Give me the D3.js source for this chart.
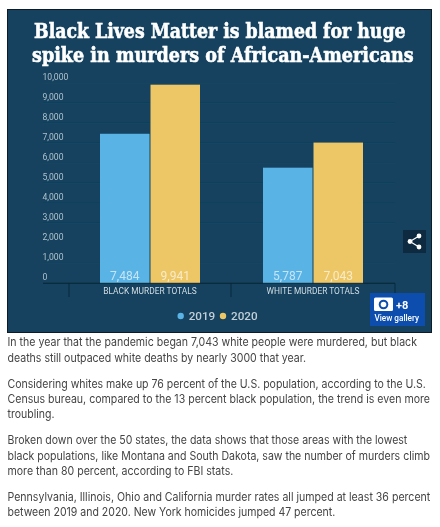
<!DOCTYPE html>
<html><head><meta charset="utf-8">
<script src="https://cdn.jsdelivr.net/npm/d3@7"></script>
<style>html,body{margin:0;padding:0;background:#fff}svg{display:block}</style></head>
<body><svg id="c" width="440" height="527"></svg>
<script>
const categories = ["BLACK MURDER TOTALS", "WHITE MURDER TOTALS"];
const years = ["2019", "2020"];
const values2019 = [7484, 5787];
const values2020 = [9941, 7043];
const yTicks = [0,1000,2000,3000,4000,5000,6000,7000,8000,9000,10000];
const titleLines = [
  {t:"Black Lives Matter is blamed for huge", x:34, w:372, y:38.3},
  {t:"spike in murders of African-Americans", x:32, w:382, y:61.7}];
const bodyLines = [
  ["In the year that the pandemic began 7,043 white people were murdered, but black",346,410],
  ["deaths still outpaced white deaths by nearly 3000 that year.",362,299],
  ["Considering whites make up 76 percent of the U.S. population, according to the U.S.",388,419],
  ["Census bureau, compared to the 13 percent black population, the trend is even more",403,423],
  ["troubling.",418,47],
  ["Broken down over the 50 states, the data shows that those areas with the lowest",444,400],
  ["black populations, like Montana and South Dakota, saw the number of murders climb",460,423],
  ["more than 80 percent, according to FBI stats.",475,226],
  ["Pennsylvania, Illinois, Ohio and California murder rates all jumped at least 36 percent",501,423],
  ["between 2019 and 2020. New York homicides jumped 47 percent.",516,328]];
const colors = {"2019":"#5AB3E5","2020":"#EDC766"};

function fit(sel,x,y,w){
  const w0 = sel.node().getComputedTextLength();
  sel.attr("transform",`translate(${x},${y}) scale(${w/w0},1)`);
}

const svg = d3.select("#c");
const defs = svg.append("defs");
defs.append("filter").attr("id","b").append("feGaussianBlur").attr("stdDeviation",0.4);
const g = svg.append("g").attr("filter","url(#b)");
g.append("rect").attr("x",7.5).attr("y",9.5).attr("width",424).attr("height",323)
  .attr("fill","#12425F").attr("stroke","#0b1c28").attr("stroke-width",1);

titleLines.forEach(l=>{
  const s=g.append("text").text(l.t)
  .attr("font-family","DejaVu Serif Condensed, DejaVu Serif").attr("font-weight",700).attr("font-size",20.5)
  .attr("fill","#fff").attr("stroke","#fff").attr("stroke-width",0.55);
  fit(s,l.x,l.y,l.w);
});

const y = d3.scaleLinear().domain([0,10000]).range([283.3,83.5]);
const x0 = d3.scaleBand().domain(categories).range([69,395]).paddingInner(0).paddingOuter(0);
const x1 = d3.scaleBand().domain(years).range([31,131]).paddingInner(0.02);

g.append("g").selectAll("line").data(yTicks.slice(1)).join("line")
  .attr("x1",43).attr("x2",395).attr("y1",d=>y(d)).attr("y2",d=>y(d))
  .attr("stroke","#164663").attr("stroke-width",0.6);
g.append("g").selectAll("text").data(yTicks).join("text")
  .attr("x",42.5).attr("y",d=>y(d)-3.2).text(d3.format(","))
  .attr("font-family","Roboto").attr("font-size",8.6).attr("fill","#b4c2cc");

const series = [values2019, values2020];
const bars = g.append("g");
years.forEach((yr,i)=>{
  bars.selectAll("rect.y"+yr).data(series[i]).join("rect").attr("class","y"+yr)
    .attr("x",(d,j)=>x0(categories[j])+x1(yr)).attr("width",x1.bandwidth())
    .attr("y",d=>y(d)).attr("height",d=>y(0)-y(d)).attr("fill",colors[yr]);
  bars.selectAll("text.y"+yr).data(series[i]).join("text").attr("class","y"+yr)
    .attr("x",(d,j)=>x0(categories[j])+x1(yr)+x1.bandwidth()/2).attr("y",y(0)-3)
    .attr("text-anchor","middle").text(d3.format(","))
    .attr("font-family","Roboto").attr("font-size",12).attr("fill","#fff").attr("fill-opacity",0.65);
});

g.append("line").attr("x1",43).attr("x2",395).attr("y1",y(0)).attr("y2",y(0)).attr("stroke","#0d2433").attr("stroke-width",1);
[69,231,395].forEach(t=>g.append("line").datum(t).attr("x1",d=>d).attr("x2",d=>d).attr("y1",y(0)).attr("y2",297).attr("stroke","#0d2433").attr("stroke-width",0.8));
g.append("g").selectAll("text").data(categories).join("text")
  .attr("x",d=>x0(d)+81).attr("y",293.5).attr("text-anchor","middle").text(d=>d)
  .attr("font-family","Roboto").attr("font-size",8.4).attr("fill","#d4dde3");

const legend=[[180.7,"2019"],[223,"2020"]];
legend.forEach(([cx,t])=>{
  g.append("circle").attr("cx",cx).attr("cy",316).attr("r",3.2).attr("fill",colors[t]);
  g.append("text").attr("x",cx+8).attr("y",320).text(t)
   .attr("font-family","Roboto").attr("font-weight",500).attr("font-size",11.7).attr("fill","#c3ced6");
});

// share button
g.append("rect").attr("x",403).attr("y",230).attr("width",23).attr("height",23).attr("fill","#0c2a3f");
[[419,236],[410,241.5],[419,247]].forEach(p=>g.append("circle").attr("cx",p[0]).attr("cy",p[1]).attr("r",2.4).attr("fill","#fff"));
g.append("path").attr("d","M419 236L410 241.5L419 247").attr("fill","none").attr("stroke","#fff").attr("stroke-width",1.2);

// gallery badge
g.append("rect").attr("x",370).attr("y",293).attr("width",55).attr("height",33).attr("fill","#0A4DAD");
g.append("rect").attr("x",374).attr("y",297.5).attr("width",19).attr("height",13.5).attr("rx",1.5).attr("fill","#fff");
g.append("circle").attr("cx",383.5).attr("cy",304.5).attr("r",4.8).attr("fill","#0A4DAD");
g.append("circle").attr("cx",383.5).attr("cy",304.5).attr("r",2.8).attr("fill","#fff");
g.append("text").attr("x",396).attr("y",308.5).text("+8").attr("font-family","Roboto").attr("font-weight",700).attr("font-size",11).attr("fill","#fff");
g.append("text").attr("x",374.5).attr("y",320.5).text("View gallery").attr("font-family","Roboto").attr("font-weight",500).attr("font-size",8.2).attr("fill","#fff");

bodyLines.forEach(([t,yy,w])=>{
  const s=g.append("text").text(t)
  .attr("font-family","Inter").attr("font-size",11.5).attr("fill","#444");
  fit(s,7.5,yy,w);
});
</script></body></html>
